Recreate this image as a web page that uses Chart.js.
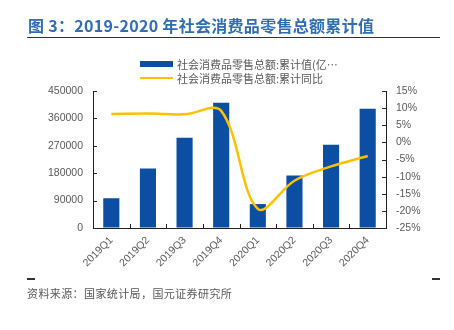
<!DOCTYPE html>
<html><head><meta charset="utf-8">
<script src="https://cdn.jsdelivr.net/npm/chart.js@4/dist/chart.umd.min.js"></script>
<style>
html,body{margin:0;padding:0;background:#fff;}
#wrap{position:relative;width:454px;height:330px;overflow:hidden;}
#c{position:absolute;left:0;top:0;}
.title{position:absolute;left:28px;top:13px;font:bold 16px "Noto Sans CJK SC","Liberation Sans",sans-serif;color:#2F6DB5;white-space:nowrap;letter-spacing:0.3px;}
.rule{position:absolute;left:27px;top:37px;width:413px;height:1.3px;background:#333;}
.leg{position:absolute;left:140px;font:11px "Noto Sans CJK SC",sans-serif;color:#595959;white-space:nowrap;display:flex;align-items:center;}
.sw{display:inline-block;width:33px;margin-right:4px;}
.dash{position:absolute;top:278px;width:8px;height:1.5px;background:#333;}
.src{position:absolute;left:27px;top:285px;font:11px "Noto Sans CJK SC",sans-serif;color:#595959;white-space:nowrap;letter-spacing:0.4px;}
</style></head>
<body><div id="wrap">
<canvas id="c" width="454" height="330"></canvas>
<div class="title">图 3：2019-2020 年社会消费品零售总额累计值</div>
<div class="rule"></div>
<div id="legend"></div>
<div class="dash" style="left:27px"></div>
<div class="dash" style="left:432px"></div>
<div class="src">资料来源：国家统计局，国元证券研究所</div>
</div>
<script>
const categories = ["2019Q1","2019Q2","2019Q3","2019Q4","2020Q1","2020Q2","2020Q3","2020Q4"];
const cumulativeValue = [97790, 195210, 296674, 411649, 78580, 172256, 273324, 391981];
const cumulativeYoY = [8.3, 8.4, 8.2, 9.2, -19.4, -11.2, -7.0, -4.0];
const seriesNames = ["社会消费品零售总额:累计值(亿…", "社会消费品零售总额:累计同比"];
const leftTicks = [0, 90000, 180000, 270000, 360000, 450000];
const rightTicks = [-25, -20, -15, -10, -5, 0, 5, 10, 15];

const BLUE = "#0B4EA2", GOLD = "#FFC000", AXIS = "#222", LABEL = "#595959";

const legendEl = document.getElementById("legend");
[[seriesNames[0], BLUE, 6, 56], [seriesNames[1], GOLD, 2.5, 70]].forEach(([t, col, h, top]) => {
  const d = document.createElement("div");
  d.className = "leg"; d.style.top = top + "px";
  d.innerHTML = `<span class="sw" style="height:${h}px;background:${col}"></span><span>${t}</span>`;
  legendEl.appendChild(d);
});

const innerTicks = {
  id: "innerTicks",
  afterDraw(chart) {
    const {ctx, chartArea: a, scales} = chart;
    ctx.save();
    ctx.strokeStyle = AXIS; ctx.lineWidth = 1;
    ctx.beginPath();
    scales.y.ticks.forEach((t, i) => {
      const p = Math.round(scales.y.getPixelForTick(i)) + 0.5;
      ctx.moveTo(a.left, p); ctx.lineTo(a.left + 4, p);
    });
    scales.y1.ticks.forEach((t, i) => {
      const p = Math.round(scales.y1.getPixelForTick(i)) + 0.5;
      ctx.moveTo(a.right - 4, p); ctx.lineTo(a.right, p);
    });
    const n = categories.length;
    for (let i = 1; i < n; i++) {
      const p = Math.round((scales.x.getPixelForTick(i - 1) + scales.x.getPixelForTick(i)) / 2) + 0.5;
      ctx.moveTo(p, a.bottom); ctx.lineTo(p, a.bottom - 4);
    }
    ctx.stroke();
    ctx.restore();
  }
};

const tickFont = {family: "'Liberation Sans', Arial, sans-serif", size: 10.5};

new Chart(document.getElementById("c"), {
  data: {
    labels: categories,
    datasets: [
      {type: "line", label: seriesNames[1], data: cumulativeYoY, yAxisID: "y1",
       borderColor: GOLD, borderWidth: 2.5, tension: 0.35, pointRadius: 0, fill: false, order: 0},
      {type: "bar", label: seriesNames[0], data: cumulativeValue, yAxisID: "y",
       backgroundColor: BLUE, barPercentage: 0.44, categoryPercentage: 1.0, order: 1}
    ]
  },
  options: {
    responsive: false, animation: false,
    layout: {padding: {left: 0, right: 0, top: 91, bottom: 0}},
    plugins: {legend: {display: false}, tooltip: {enabled: false}},
    scales: {
      x: {
        offset: true,
        grid: {display: true, drawOnChartArea: false, drawTicks: false},
        border: {display: true, color: AXIS, width: 1},
        ticks: {color: LABEL, font: tickFont, maxRotation: 45, minRotation: 45, padding: 6},
        afterFit: s => { s.height = 102; }
      },
      y: {
        position: "left", min: 0, max: 450000,
        afterBuildTicks: s => { s.ticks = leftTicks.map(v => ({value: v})); },
        grid: {display: true, drawOnChartArea: false, drawTicks: false},
        border: {display: true, color: AXIS, width: 1},
        ticks: {color: LABEL, font: tickFont, padding: 10, callback: v => String(v)},
        afterFit: s => { s.width = 93; }
      },
      y1: {
        position: "right", min: -25, max: 15,
        afterBuildTicks: s => { s.ticks = rightTicks.map(v => ({value: v})); },
        grid: {display: true, drawOnChartArea: false, drawTicks: false},
        border: {display: true, color: AXIS, width: 1},
        ticks: {color: LABEL, font: tickFont, padding: 10, callback: v => v + "%"},
        afterFit: s => { s.width = 68; }
      }
    }
  },
  plugins: [innerTicks]
});
</script>
</body></html>
